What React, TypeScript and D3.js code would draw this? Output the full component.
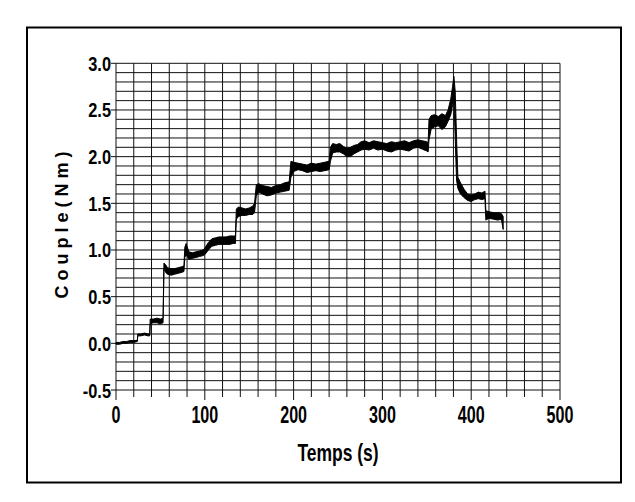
import React from 'react';
import * as d3 from 'd3';

const times = [
  0, 4, 8, 12, 16, 20, 24,
  24.5, 28, 32, 36, 38,
  38.5, 42, 46, 50, 53,
  54, 56, 58, 62, 66, 70, 74, 76.5,
  77.5, 79, 82, 86, 90, 94, 98, 100,
  104, 108, 112, 116, 120, 124, 128, 132, 134.5,
  135.5, 138, 142, 146, 150, 154, 156,
  158, 161, 165, 170, 175, 180, 185, 190, 195,
  197, 200, 205, 210, 215, 220, 225, 230, 235, 240,
  241.5, 244, 248, 252, 256, 260, 264, 268, 272, 276, 280, 285, 290, 295, 300,
  305, 310, 315, 320, 325, 330, 335, 340, 345, 350, 351.5,
  352.5, 355, 359, 363, 367, 371, 374, 377, 379, 380.5, 382, 383.5,
  385, 388, 392, 396, 400, 404, 408, 412, 415.5,
  416.5, 420, 425, 430, 434, 436,
];
const upper = [
  0.01, 0.01, 0.02, 0.02, 0.03, 0.03, 0.03,
  0.1, 0.1, 0.11, 0.1, 0.1,
  0.26, 0.26, 0.27, 0.26, 0.27,
  0.86, 0.84, 0.81, 0.8, 0.8, 0.81, 0.82, 0.83,
  1.03, 1.07, 0.98, 0.97, 0.98, 0.99, 1.0, 1.02,
  1.08, 1.12, 1.13, 1.14, 1.14, 1.14, 1.15, 1.15, 1.15,
  1.44, 1.46, 1.45, 1.44, 1.45, 1.47, 1.5,
  1.7, 1.71, 1.69, 1.68, 1.67, 1.69, 1.7, 1.72, 1.73,
  1.95, 1.94, 1.93, 1.92, 1.91, 1.93, 1.92, 1.93, 1.94, 1.95,
  2.1, 2.14, 2.13, 2.14, 2.11, 2.09, 2.1, 2.12, 2.13, 2.16, 2.17, 2.15, 2.17, 2.16, 2.15,
  2.14, 2.16, 2.15, 2.16, 2.17, 2.15, 2.17, 2.18, 2.17, 2.16, 2.15,
  2.4, 2.44, 2.45, 2.43, 2.46, 2.44, 2.5, 2.62, 2.75, 2.86, 2.7, 2.2,
  1.78, 1.72, 1.65, 1.6, 1.59, 1.6, 1.62, 1.61, 1.63,
  1.42, 1.41, 1.4, 1.4, 1.39, 1.36,
];
const lower = [
  -0.01, -0.01, 0.0, 0.0, 0.01, 0.01, 0.02,
  0.08, 0.08, 0.09, 0.08, 0.08,
  0.21, 0.22, 0.22, 0.21, 0.22,
  0.8, 0.76, 0.74, 0.73, 0.74, 0.75, 0.76, 0.77,
  0.92, 0.95, 0.9, 0.91, 0.92, 0.93, 0.94, 0.95,
  1.0, 1.04, 1.05, 1.06, 1.06, 1.06, 1.06, 1.07, 1.07,
  1.33, 1.36, 1.37, 1.37, 1.38, 1.38, 1.4,
  1.58, 1.62, 1.6, 1.58, 1.59, 1.61, 1.62, 1.63, 1.64,
  1.78, 1.84, 1.86, 1.85, 1.83, 1.84, 1.85, 1.84, 1.85, 1.86,
  1.95, 2.04, 2.05, 2.05, 2.03, 2.0, 2.0, 2.03, 2.05, 2.07, 2.08, 2.07, 2.09, 2.07, 2.08,
  2.06, 2.05, 2.07, 2.08, 2.07, 2.06, 2.09, 2.1, 2.08, 2.06, 2.05,
  2.18, 2.3, 2.32, 2.33, 2.29, 2.32, 2.38, 2.45, 2.55, 2.62, 2.2, 1.75,
  1.66, 1.6, 1.56, 1.53, 1.52, 1.54, 1.55, 1.54, 1.55,
  1.32, 1.34, 1.33, 1.32, 1.33, 1.22,
];

const xTickLabels = [0, 100, 200, 300, 400, 500];
const yTickLabels = ['-0.5', '0.0', '0.5', '1.0', '1.5', '2.0', '2.5', '3.0'];

const W = 635;
const H = 502;
const narrow = "'Liberation Sans Narrow', 'Arial Narrow', 'Liberation Sans', Arial, sans-serif";

const x = d3.scaleLinear().domain([0, 500]).range([116, 560]);
const y = d3.scaleLinear().domain([-0.5, 3]).range([390, 63.3]);

const vGrid = d3.range(0, 26).map(i => i * 20);
const hGrid = d3.range(-5, 31).map(i => i / 10);

const band = times.map((t, i) => ({ t, hi: upper[i], lo: lower[i] }));
const area = d3.area<{ t: number; hi: number; lo: number }>()
  .x(d => x(d.t))
  .y0(d => y(d.lo))
  .y1(d => y(d.hi));

const Squeezed = ({ x0, y0, sx, anchor, size, children }: any) => (
  <text
    transform={`translate(${x0},${y0}) scale(${sx},1)`}
    textAnchor={anchor}
    fontFamily={narrow}
    fontWeight="bold"
    fontSize={size}
    fill="#000"
  >
    {children}
  </text>
);

export default function App() {
  return (
    <svg width={W} height={H} style={{ position: 'absolute', left: 0, top: 0, background: '#fff' }}>
      <rect x={0} y={0} width={W} height={H} fill="#fff" />
      <rect x={27} y={27.5} width={594} height={455} fill="none" stroke="#000" strokeWidth={2} />

      {vGrid.map(v => (
        <line key={'v' + v} x1={x(v)} x2={x(v)} y1={y(3)} y2={y(-0.5) + (v % 100 === 0 ? 10 : 7)} stroke="#111" strokeWidth={1} />
      ))}
      {hGrid.map(v => (
        <line key={'h' + v} x1={x(0) - (Math.round(v * 10) % 5 === 0 ? 5 : 0)} x2={x(500)} y1={y(v)} y2={y(v)} stroke="#111" strokeWidth={1} />
      ))}

      <path d={area(band) || ''} fill="#000" stroke="#000" strokeWidth={1} strokeLinejoin="round" />

      {yTickLabels.map(s => (
        <Squeezed key={s} x0={111} y0={y(+s) + 7.5} sx={0.78} anchor="end" size={21}>{s}</Squeezed>
      ))}
      {xTickLabels.map(v => (
        <Squeezed key={v} x0={x(v)} y0={423} sx={0.7} anchor="middle" size={23}>{v}</Squeezed>
      ))}
      <Squeezed x0={338} y0={461} sx={0.76} anchor="middle" size={23}>Temps (s)</Squeezed>

      <text
        transform="translate(68,225) rotate(-90)"
        textAnchor="middle"
        fontFamily="'Liberation Sans', Arial, sans-serif"
        fontWeight="bold"
        fontSize={18}
        fill="#000"
      >
        C o u p l e ( N m )
      </text>
    </svg>
  );
}
